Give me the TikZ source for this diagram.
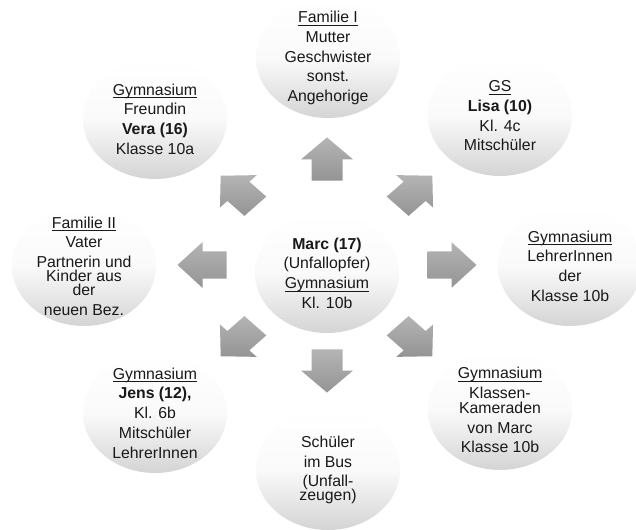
\documentclass[tikz,border=0pt]{standalone}
\usepackage{fontspec}
\setmainfont{Liberation Sans}
\usetikzlibrary{shapes.geometric}

\definecolor{kreisgrau}{RGB}{212,212,212}
\definecolor{pfeiloben}{RGB}{180,180,180}
\definecolor{pfeilunten}{RGB}{148,148,148}

% Unterstreichung knapp unter der Grundlinie
\newcommand{\unterstr}[1]{{\setbox0\hbox{#1}\rlap{\rule[-1.6pt]{\wd0}{0.45pt}}\box0}}

\tikzset{
  kreis/.style={ellipse, minimum width=2.88cm, minimum height=2.4cm, inner sep=0pt,
    top color=white, bottom color=kreisgrau, middle color=white!88!kreisgrau},
  beschr/.style={align=center, inner sep=0pt, text=black!90,
    font=\fontsize{9}{11.2}\selectfont},
  blockpfeil/.style={top color=pfeiloben, bottom color=pfeilunten}
}

\begin{document}
\begin{tikzpicture}[x=0.02cm, y=0.02cm]
    % Rahmen
    \fill[white] (0,0) rectangle (636,530);
    \useasboundingbox (0,0) rectangle (636,530);

    % Mitte
    \node[kreis, label={[beschr]center:{\textbf{Marc (17)}\\(Unfallopfer)\\\unterstr{Gymnasium}\\Kl. 10b}}] (marc) at (327,257) {};

    % Kreise aussen
    \node[kreis, label={[beschr]center:{\unterstr{Familie I}\\Mutter\\Geschwister\\sonst.\\Angehorige}}] (fam1) at (328,472) {};
    \node[kreis, label={[beschr]center:{\unterstr{Gymnasium}\\Freundin\\\textbf{Vera (16)}\\Klasse 10a}}] (vera) at (155,411) {};
    \node[kreis, label={[beschr]center:{\unterstr{GS}\\\textbf{Lisa (10)}\\Kl. 4c\\Mitschüler}}] (lisa) at (500,414) {};
    \node[kreis, label={[beschr]center:{\unterstr{Familie II}\\Vater\\Partnerin und\\[-3.2pt]Kinder aus\\[-3.2pt]der\\neuen Bez.}}] (fam2) at (84,264) {};
    \node[kreis, label={[beschr]center:{\unterstr{Gymnasium}\\LehrerInnen\\der\\Klasse 10b}}] (lehrer) at (570,264) {};
    \node[kreis, label={[beschr]center:{\unterstr{Gymnasium}\\\textbf{Jens (12),}\\Kl. 6b\\Mitschüler\\LehrerInnen}}] (jens) at (155,117) {};
    \node[kreis, label={[beschr]center:{\unterstr{Gymnasium}\\Klassen-\\[-2.6pt]Kameraden\\von Marc\\Klasse 10b}}] (klasse) at (500,120) {};
    \node[kreis, label={[beschr]center:{Schüler\\im Bus\\(Unfall-\\[-3.2pt]zeugen)}}] (bus) at (328,60) {};

    % Blockpfeile
    \foreach \px/\py/\winkel in {327/371/90, 327/159/-90, 202/265/180, 452/265/0,
                                 238/339/135, 415/339/45, 238/189/225, 415/189/-45} {
      \shade[blockpfeil, shift={(\px,\py)}, yscale=0.88, rotate=\winkel]
        (-24.5,-15.5) -- (-0.5,-15.5) -- (-0.5,-26) -- (24.5,0)
        -- (-0.5,26) -- (-0.5,15.5) -- (-24.5,15.5) -- cycle;
    }
\end{tikzpicture}
\end{document}
